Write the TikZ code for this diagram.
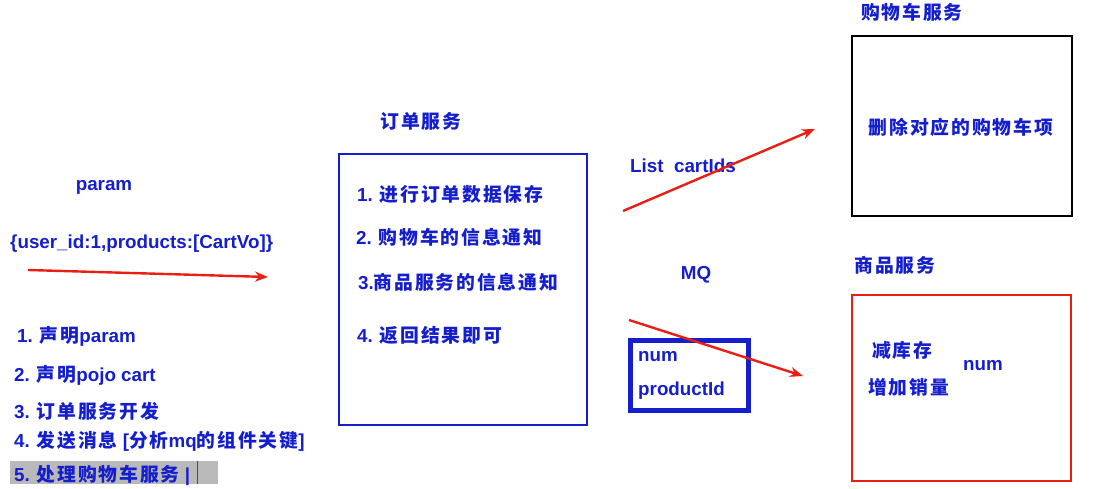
\documentclass[tikz,border=0pt]{standalone}
\usepackage{fontspec}
\setmainfont{Liberation Sans}
\newfontfamily\cjk{Noto Sans CJK SC}[LetterSpace=10]
\usetikzlibrary{arrows.meta}
\definecolor{tblue}{RGB}{20,30,205}
\definecolor{tred}{RGB}{235,30,20}
\newcommand{\zh}[1]{{\cjk\bfseries #1}}
\tikzset{
  txt/.style={anchor=west,inner sep=0pt,yshift=-3.5pt,text=tblue,font=\fontsize{18.8}{21}\selectfont\bfseries},
  ctxt/.style={txt,anchor=center},
  redarrow/.style={draw=tred,line width=2.4pt,-{Stealth[length=13pt,width=10pt]}},
  box/.style={draw,inner sep=0pt,anchor=north west}
}
\begin{document}
\begin{tikzpicture}[x=1pt,y=-1pt]
\useasboundingbox (0,0) rectangle (1120,489);
% left part
\node[ctxt] (param) at (104,184) {param};
\node[txt] (json) at (10,240) {\{user\_id:1,products:[CartVo]\}};
\coordinate (a1s) at (28,270);
\coordinate (a1e) at (268,277);
\draw[redarrow] (a1s) -- (a1e);
\node[txt] (s1) at (17,333) {1. \zh{声明}param};
\node[txt] (s2) at (14,372) {2. \zh{声明}pojo cart};
\node[txt] (s3) at (14,408) {3. \zh{订单服务开发}};
\node[txt] (s4) at (14,438) {4. \zh{发送消息} [\zh{分析}mq\zh{的组件关键}]};
\fill[gray!55] (10,461) rectangle (218,484);
\draw[black!70,line width=1pt] (197,461) -- (197,484);
\node[txt] (s5) at (14,472) {5. \zh{处理购物车服务} |};
% order service
\node[ctxt] (otitle) at (421,118) {\zh{订单服务}};
\node[box,draw=tblue,line width=2.2pt,minimum width=248pt,minimum height=271pt] (order) at (338,153) {};
\node[txt] (o1) at (357,191) {1. \zh{进行订单数据保存}};
\node[txt] (o2) at (356,234) {2. \zh{购物车的信息通知}};
\node[txt] (o3) at (358,279) {3.\zh{商品服务的信息通知}};
\node[txt] (o4) at (357,332) {4. \zh{返回结果即可}};
% cart service
\node[ctxt] (ctitle) at (912,9) {\zh{购物车服务}};
\node[box,draw=black,line width=2.4pt,minimum width=220pt,minimum height=180pt] (cart) at (851,35) {};
\node[ctxt] (ctext) at (961,124) {\zh{删除对应的购物车项}};
\node[txt] (list) at (630,162) {List\ \ cartIds};
\coordinate (a2s) at (623,211);
\coordinate (a2e) at (815,129);
\draw[redarrow] (a2s) -- (a2e);
% MQ
\node[ctxt] (mq) at (696,271) {MQ};
\node[box,draw=tblue,line width=5pt,minimum width=118pt,minimum height=70pt] (mqbox) at (628,338) {};
\node[txt] (num1) at (638,353) {num};
\node[txt] (pid) at (638,387) {productId};
% product service
\node[ctxt] (ptitle) at (895,262) {\zh{商品服务}};
\node[box,draw=tred,line width=2.2pt,minimum width=219pt,minimum height=186pt] (prod) at (851,294) {};
\node[txt] (p1) at (872,347) {\zh{减库存}};
\node[txt] (p2) at (868,384) {\zh{增加销量}};
\node[txt] (num2) at (963,362) {num};
\coordinate (a3s) at (629,320);
\coordinate (a3e) at (803,376);
\draw[redarrow] (a3s) -- (a3e);
\end{tikzpicture}
\end{document}
